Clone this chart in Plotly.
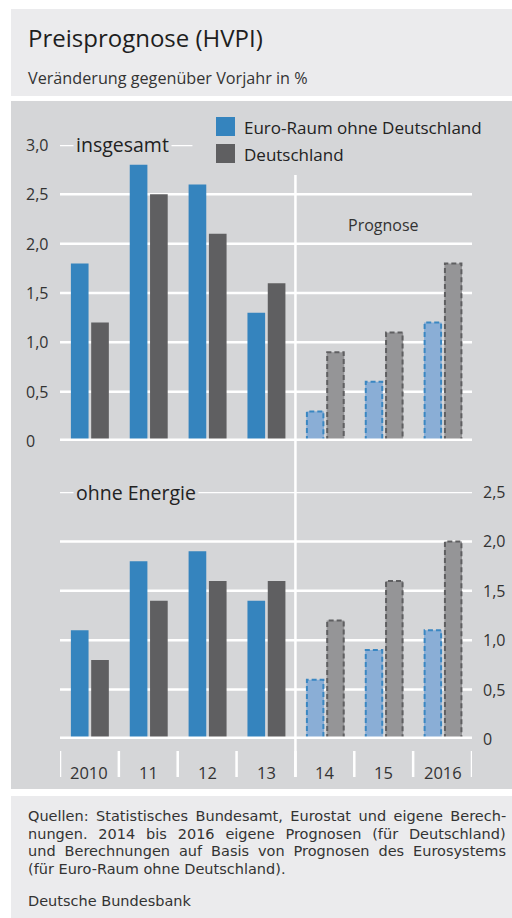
import plotly.graph_objects as go

# ---------------- data ----------------
categories = ["2010", "11", "12", "13", "14", "15", "2016"]
forecast_from = 4  # index of first forecast year (2014)
series_names = ["Euro-Raum ohne Deutschland", "Deutschland"]
total_euro = [1.8, 2.8, 2.6, 1.3, 0.3, 0.6, 1.2]
total_de = [1.2, 2.5, 2.1, 1.6, 0.9, 1.1, 1.8]
core_euro = [1.1, 1.8, 1.9, 1.4, 0.6, 0.9, 1.1]
core_de = [0.8, 1.4, 1.6, 1.6, 1.2, 1.6, 2.0]
top_ticks = [0, 0.5, 1.0, 1.5, 2.0, 2.5, 3.0]
bottom_ticks = [0, 0.5, 1.0, 1.5, 2.0, 2.5]

# ---------------- style ----------------
W, H = 512, 918
FONT = "Open Sans"
FOOT_FONT = "DejaVu Sans"
BLUE = "#3584be"
GREY = "#5f5f61"
BLUE_FC = "#8aaed6"
GREY_FC = "#959597"
BLUE_EDGE = "#3a87c2"
GREY_EDGE = "#5f5f61"
PANEL_LIGHT = "#ebebed"
PANEL_DARK = "#d5d6d8"
TXT = "#222222"

BAR_W = 0.30
OFFS = [-0.315, 0.03]

def py(p):
    return 1 - p / H

def px(p):
    return p / W

x_idx = list(range(len(categories)))

fig = go.Figure()

def add_panel(xa, ya, euro, de):
    for s, (vals, col, fc, edge) in enumerate([(euro, BLUE, BLUE_FC, BLUE_EDGE),
                                               (de, GREY, GREY_FC, GREY_EDGE)]):
        colors = [col if i < forecast_from else fc for i in x_idx]
        fig.add_trace(go.Bar(
            x=x_idx, y=vals, width=BAR_W, offset=OFFS[s],
            marker=dict(color=colors, line=dict(width=0)),
            xaxis=xa, yaxis=ya, showlegend=False, hoverinfo="skip"))
        # dashed outline for forecast bars
        lx, ly = [], []
        for i in x_idx[forecast_from:]:
            x0 = i + OFFS[s] + 0.01
            x1 = i + OFFS[s] + BAR_W - 0.01
            v = vals[i]
            lx += [x0, x0, x1, x1, None]
            ly += [0, v, v, 0, None]
        fig.add_trace(go.Scatter(
            x=lx, y=ly, mode="lines",
            line=dict(color=edge, width=2, dash="5px,3px"),
            xaxis=xa, yaxis=ya, showlegend=False, hoverinfo="skip"))

add_panel("x", "y", total_euro, total_de)
add_panel("x2", "y2", core_euro, core_de)

XDOM = [px(60), px(472)]
fig.update_layout(
    width=W, height=H,
    margin=dict(l=0, r=0, t=0, b=0),
    paper_bgcolor="white", plot_bgcolor="rgba(0,0,0,0)",
    barmode="overlay",
    showlegend=False,
    font=dict(family=FONT, color=TXT),
    xaxis=dict(domain=XDOM, range=[-0.5, 6.5], visible=False, anchor="y", fixedrange=True),
    yaxis=dict(domain=[py(441), py(145)], range=[0, 3.0], visible=False, anchor="x", fixedrange=True),
    xaxis2=dict(domain=XDOM, range=[-0.5, 6.5], visible=False, anchor="y2", fixedrange=True),
    yaxis2=dict(domain=[py(739), py(492)], range=[0, 2.5], visible=False, anchor="x2", fixedrange=True),
)

shapes = []
# panels
shapes.append(dict(type="rect", xref="paper", yref="paper", x0=px(11), x1=1, y0=py(96), y1=py(9),
                   fillcolor=PANEL_LIGHT, line=dict(width=0), layer="below"))
shapes.append(dict(type="rect", xref="paper", yref="paper", x0=px(11), x1=1, y0=py(789), y1=py(101),
                   fillcolor=PANEL_DARK, line=dict(width=0), layer="below"))
shapes.append(dict(type="rect", xref="paper", yref="paper", x0=px(11), x1=1, y0=0, y1=py(796),
                   fillcolor=PANEL_LIGHT, line=dict(width=0), layer="below"))

# gridlines
for t in top_ticks[1:]:
    x1 = 6.5 if t < 3.0 else 1.75
    shapes.append(dict(type="line", xref="x", yref="y", x0=-0.5, x1=x1, y0=t, y1=t,
                       line=dict(color="white", width=2.5), layer="below"))
for t in bottom_ticks[1:]:
    shapes.append(dict(type="line", xref="x2", yref="y2", x0=-0.5, x1=6.5, y0=t, y1=t,
                       line=dict(color="white", width=2.5), layer="below"))
# zero lines
shapes.append(dict(type="line", xref="x", yref="y", x0=-0.5, x1=6.5, y0=0, y1=0,
                   line=dict(color="white", width=5), layer="above"))
shapes.append(dict(type="line", xref="x2", yref="y2", x0=-0.5, x1=6.5, y0=0, y1=0,
                   line=dict(color="white", width=5), layer="above"))
# forecast separator
shapes.append(dict(type="line", xref="x", yref="paper", x0=forecast_from - 0.5, x1=forecast_from - 0.5,
                   y0=py(777), y1=py(175), line=dict(color="white", width=2.5), layer="above"))
# category separators
for i in range(len(categories) + 1):
    shapes.append(dict(type="line", xref="x2", yref="paper", x0=i - 0.5, x1=i - 0.5,
                       y0=py(777), y1=py(751), line=dict(color="white", width=2.5), layer="above"))
# legend squares
shapes.append(dict(type="rect", xref="paper", yref="paper", x0=px(216), x1=px(235), y0=py(136), y1=py(117),
                   fillcolor=BLUE, line=dict(width=0)))
shapes.append(dict(type="rect", xref="paper", yref="paper", x0=px(216), x1=px(235), y0=py(163), y1=py(144),
                   fillcolor=GREY, line=dict(width=0)))
fig.update_layout(shapes=shapes)

ann = []
def A(**kw):
    ann.append(dict(showarrow=False, **kw))

# titles
A(text="Preisprognose (HVPI)", xref="paper", yref="paper", x=px(26), y=py(37),
  xanchor="left", yanchor="middle", font=dict(size=24, color="#1e1e1e"))
A(text="Veränderung gegenüber Vorjahr in %", xref="paper", yref="paper", x=px(26), y=py(78),
  xanchor="left", yanchor="middle", font=dict(size=16.2, color="#333333"))
# legend text
A(text=series_names[0], xref="paper", yref="paper", x=px(242), y=py(127),
  xanchor="left", yanchor="middle", font=dict(size=17, color=TXT))
A(text=series_names[1], xref="paper", yref="paper", x=px(242), y=py(154),
  xanchor="left", yanchor="middle", font=dict(size=17, color=TXT))
# panel labels
A(text="insgesamt", xref="paper", yref="y", x=px(73), y=3.0, xanchor="left", yanchor="middle",
  font=dict(size=19.5, color=TXT), bgcolor=PANEL_DARK, borderpad=2)
A(text="ohne Energie", xref="paper", yref="y2", x=px(73), y=2.5, xanchor="left", yanchor="middle",
  font=dict(size=19.5, color=TXT), bgcolor=PANEL_DARK, borderpad=2)
A(text="Prognose", xref="x", yref="paper", x=5.0, y=py(225), xanchor="center", yanchor="middle",
  font=dict(size=16, color="#333333"))
# y tick labels
def fmt(v):
    return "0" if v == 0 else f"{v:.1f}".replace(".", ",")
for t in top_ticks:
    A(text=fmt(t), xref="paper", yref="y", x=px(24), y=t, xanchor="left", yanchor="middle",
      font=dict(size=16, color="#333333"))
for t in bottom_ticks:
    A(text=fmt(t), xref="paper", yref="y2", x=px(481), y=t, xanchor="left", yanchor="middle",
      font=dict(size=16, color="#333333"))
# category labels
for i, c in enumerate(categories):
    A(text=c, xref="x2", yref="paper", x=i, y=py(772), xanchor="center", yanchor="middle",
      font=dict(size=16.5, color="#333333"))
# footer (justified look: widen word gaps with unicode spaces)
footer_lines = [
    "Quellen: Statistisches Bundesamt, Eurostat und eigene Berech-",
    "nungen. 2014 bis 2016 eigene Prognosen (für Deutschland)",
    "und Berechnungen auf Basis von Prognosen des Eurosystems",
    "(für Euro-Raum ohne Deutschland).",
]
gap_fill = [" \u2009", " \u2004\u200a", " \u2009\u200a", " "]
for k, line in enumerate(footer_lines):
    txt = gap_fill[k].join(line.split(" "))
    A(text=txt, xref="paper", yref="paper", x=px(26), y=py(816 + k * 17.5), xanchor="left",
      yanchor="middle", font=dict(family=FOOT_FONT, size=14.5, color="#333333"))
A(text="Deutsche Bundesbank", xref="paper", yref="paper", x=px(26), y=py(901), xanchor="left",
  yanchor="middle", font=dict(family=FOOT_FONT, size=14.5, color="#333333"))

fig.update_layout(annotations=ann)
fig.write_html("out.html")
